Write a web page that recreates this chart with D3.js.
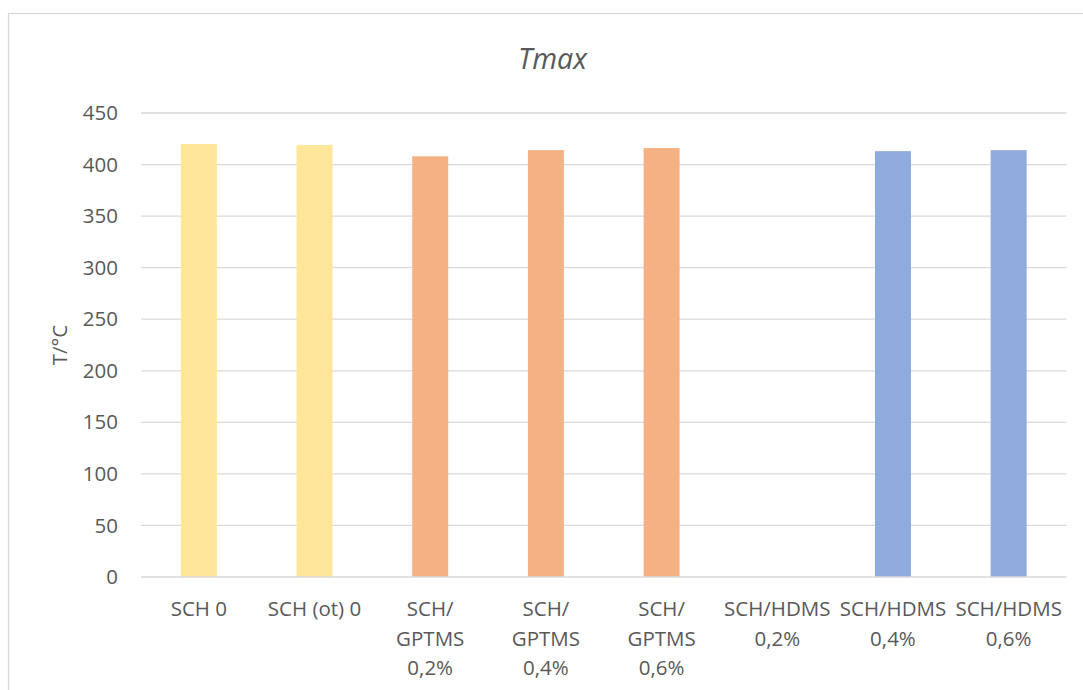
<!DOCTYPE html>
<html><head><meta charset="utf-8">
<script src="https://cdn.jsdelivr.net/npm/d3@7"></script>
<style>html,body{margin:0;padding:0;background:#fff;}svg{display:block;}</style>
</head><body>
<svg id="c" width="1083" height="690"></svg>
<script>
const categories = ["SCH 0", "SCH (ot) 0", "SCH/\nGPTMS\n0,2%", "SCH/\nGPTMS\n0,4%", "SCH/\nGPTMS\n0,6%", "SCH/HDMS\n0,2%", "SCH/HDMS\n0,4%", "SCH/HDMS\n0,6%"];
const values = [420, 419, 408, 414, 416, null, 413, 414];
const groups = ["SCH", "SCH", "GPTMS", "GPTMS", "GPTMS", "HDMS", "HDMS", "HDMS"];
const groupColors = {SCH: "#FFE699", GPTMS: "#F4B183", HDMS: "#8FAADC"};
const yTicks = [0, 50, 100, 150, 200, 250, 300, 350, 400, 450];
const title = "Tmax";
const yTitle = "T/°C";

const svg = d3.select("#c");
const font = "'Open Sans', sans-serif";
const txt = "#595959";
const grid = "#d9d9d9";

svg.append("rect").attr("x", 8.5).attr("y", 13.5).attr("width", 1200).attr("height", 800)
  .attr("fill", "#fff").attr("stroke", grid).attr("stroke-width", 1.3);

const L = 141, R = 1066.5, T = 113, B = 577;
const x = d3.scaleBand().domain(categories).range([L, R]).padding(0);
const y = d3.scaleLinear().domain([0, 450]).range([B, T]);
const bw = x.bandwidth() * 0.311;

// gridlines
svg.append("g").selectAll("line").data(yTicks.filter(t => t > 0)).join("line")
  .attr("x1", L).attr("x2", R).attr("y1", d => y(d)).attr("y2", d => y(d))
  .attr("stroke", grid).attr("stroke-width", 1.3);

// y tick labels via axis
const yAxis = svg.append("g").attr("transform", `translate(${L},0)`)
  .call(d3.axisLeft(y).tickValues(yTicks).tickSize(0).tickPadding(23).tickFormat(d3.format("d")));
yAxis.select(".domain").remove();
yAxis.selectAll("text").attr("fill", txt).style("font-family", font).style("font-size", "20.5px");

// bars
svg.append("g").selectAll("rect").data(categories.map((c, i) => ({c, v: values[i], g: groups[i]})).filter(d => d.v != null))
  .join("rect")
  .attr("x", d => x(d.c) + (x.bandwidth() - bw) / 2)
  .attr("width", bw)
  .attr("y", d => y(d.v))
  .attr("height", d => y(0) - y(d.v))
  .attr("fill", d => groupColors[d.g]);

// x axis line
svg.append("line").attr("x1", L).attr("x2", R).attr("y1", B).attr("y2", B)
  .attr("stroke", grid).attr("stroke-width", 1.5);

// x labels
const xl = svg.append("g");
categories.forEach(c => {
  const t = xl.append("text").attr("text-anchor", "middle").attr("fill", txt)
    .style("font-family", font).style("font-size", "20.5px");
  c.split("\n").forEach((line, i) => {
    t.append("tspan").attr("x", x(c) + x.bandwidth() / 2).attr("y", 616 + i * 29.5).text(line);
  });
});

// title
svg.append("text").attr("x", 552.5).attr("y", 69).attr("text-anchor", "middle")
  .attr("fill", txt).style("font-family", font).style("font-style", "italic").style("font-size", "28.5px")
  .text(title);

// y title
svg.append("text").attr("transform", `translate(67,${(T + B) / 2}) rotate(-90)`).attr("text-anchor", "middle")
  .attr("fill", txt).style("font-family", font).style("font-size", "20.5px").text(yTitle);
</script>
</body></html>
